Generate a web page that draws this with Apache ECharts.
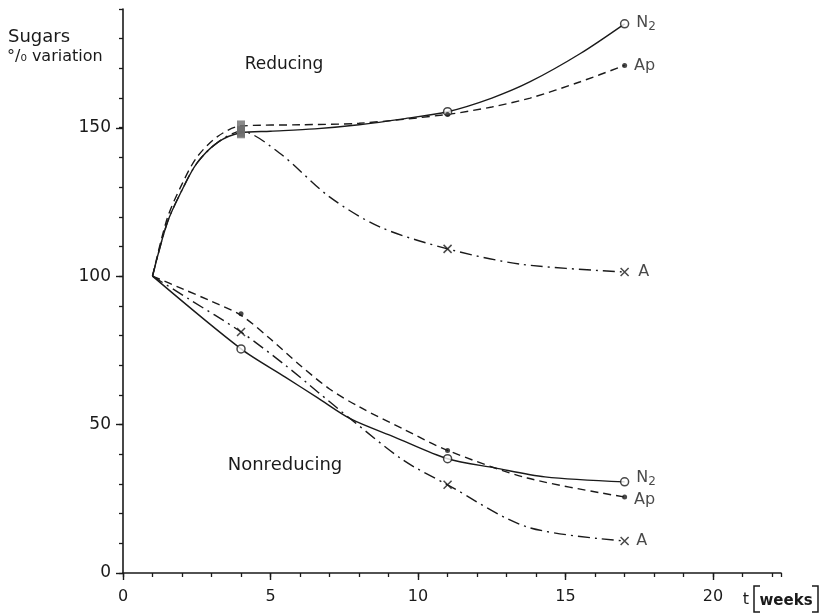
<!DOCTYPE html>
<html><head><meta charset="utf-8">
<script src="https://cdn.jsdelivr.net/npm/echarts@6/dist/echarts.min.js"></script>
<style>html,body{margin:0;padding:0;background:#fff}#c{width:821px;height:616px}</style>
</head><body><div id="c"></div>
<script>
// ---- data (t in weeks, sugars % variation) ----
const markerWeeks = [4, 11, 17];
const redN2 = [148.3, 155.4, 185];
const redAp = [150.6, 154.5, 171];
const redA  = [148.8, 109.2, 101.4];
const nonN2 = [75.5, 38.5, 30.7];
const nonAp = [87.3, 41.3, 25.6];
const nonA  = [81.2, 29.7, 10.8];

// curves
const curveRedN2 = [[1,100],[1.5,118],[2,129],[2.5,138],[3.2,145],[4,148.3],[5,148.8],[6.5,149.6],[8,151],[9.5,153],[11,155.4],[12.5,160],[13.8,165.5],[15.5,175],[17,185]];
const curveRedAp = [[1,100],[1.5,119.5],[2,131],[2.5,140],[3.2,147],[4,150.6],[6,151],[8,151.5],[11,154.5],[12.5,157],[13.8,160],[15.5,165.5],[17,171]];
const curveRedA  = [[1,100],[1.5,118],[2,129],[2.5,138],[3.2,145],[4,148.8],[5.3,141.5],[7,126.7],[8.7,116.6],[11,109.2],[13.5,104],[17,101.4]];
const curveNonN2 = [[1,100],[4,75.5],[5.5,66],[6.6,59],[7.7,52],[9.2,45.8],[11,38.5],[12.6,35.4],[14.3,32.4],[17,30.7]];
const curveNonAp = [[1,100],[2,95.8],[3,91.5],[4,86.8],[5,78.8],[6,70],[7,62],[8,56],[9.5,48.5],[11,41.3],[13.7,32],[17,25.6]];
const curveNonA  = [[1,100],[2.2,92.5],[4,81.2],[5.5,70],[6.6,61],[7.7,52],[9.5,38],[11,29.7],[13.7,15.5],[17,10.8]];

const xTickLabels = [0, 5, 10, 15, 20];
const yTickLabels = [0, 50, 100, 150];

// ---- styles ----
const INK = '#1a1a1a';
const FONT = 'DejaVu Sans';
const DASHED = [8, 5];
const DASHDOT = [12, 5, 2, 5];
const CROSS = 'path://M0,0L10,10M10,0L0,10';

function curve(pts, type) {
  return { type: 'line', xAxisIndex: 0, yAxisIndex: 0, data: pts, smooth: 0.3,
    showSymbol: false, silent: true,
    lineStyle: { color: INK, width: 1.4, type: type } };
}
const mStyles = {
  N2: { symbol: 'circle', symbolSize: 8, itemStyle: { color: '#fff', borderColor: INK, borderWidth: 1.5 } },
  Ap: { symbol: 'circle', symbolSize: 5, itemStyle: { color: INK, borderColor: INK, borderWidth: 0 } },
  A:  { symbol: CROSS, symbolSize: 8, itemStyle: { color: 'transparent', borderColor: INK, borderWidth: 1.5 } }
};
const labelRich = { n: { fontFamily: FONT, fontSize: 16, color: INK }, s: { fontFamily: FONT, fontSize: 12, color: INK, padding: [9, 0, 0, 0] } };
function markers(vals, kind, labelText, labelOffset, grayFirst) {
  const st = mStyles[kind];
  const data = vals.map((v, i) => {
    const item = { value: [markerWeeks[i], v] };
    if (i === 0 && grayFirst) {
      item.symbol = 'rect'; item.symbolSize = [8, 11];
      item.itemStyle = { color: '#6d6d6d', borderColor: '#6d6d6d', borderWidth: 0 };
    }
    if (i === vals.length - 1) {
      item.label = { show: true, position: 'right', distance: 7, offset: labelOffset,
        formatter: labelText, color: INK, fontFamily: FONT, fontSize: 16, rich: labelRich };
    }
    return item;
  });
  return { type: 'scatter', xAxisIndex: 0, yAxisIndex: 0, data: data, silent: true,
    symbol: st.symbol, symbolSize: st.symbolSize, itemStyle: st.itemStyle, z: 5 };
}

const chart = echarts.init(document.getElementById('c'), null, { renderer: 'canvas' });
const axisLine = { show: true, lineStyle: { color: INK, width: 1.6 } };
const option = {
  animation: false,
  backgroundColor: '#fff',
  grid: [
    { left: 123, top: 9, width: 658, height: 564 },
    { left: 123, top: 128, width: 590, height: 445 }
  ],
  xAxis: [
    { type: 'value', gridIndex: 0, min: 0, max: 22.3, interval: 1,
      axisLine: axisLine, axisTick: { show: true, length: 4, lineStyle: { color: INK, width: 1.3 } },
      axisLabel: { show: false }, splitLine: { show: false } },
    { type: 'value', gridIndex: 1, min: 0, max: 20, interval: 5,
      axisLine: { show: false }, axisTick: { show: true, length: 7, lineStyle: { color: INK, width: 1.4 } },
      axisLabel: { show: true, margin: 16, color: INK, fontFamily: FONT, fontSize: 16,
        formatter: v => (xTickLabels.indexOf(v) >= 0 ? String(v) : '') },
      splitLine: { show: false } }
  ],
  yAxis: [
    { type: 'value', gridIndex: 0, min: 0, max: 190, interval: 10,
      axisLine: axisLine, axisTick: { show: true, length: 4, lineStyle: { color: INK, width: 1.3 } },
      axisLabel: { show: false }, splitLine: { show: false } },
    { type: 'value', gridIndex: 1, min: 0, max: 150, interval: 50,
      axisLine: { show: false }, axisTick: { show: true, length: 7, lineStyle: { color: INK, width: 1.4 } },
      axisLabel: { show: true, margin: 12, color: INK, fontFamily: FONT, fontSize: 17,
        formatter: v => (yTickLabels.indexOf(v) >= 0 ? String(v) : '') },
      splitLine: { show: false } }
  ],
  series: [
    curve(curveRedN2, 'solid'),
    curve(curveRedAp, DASHED),
    curve(curveRedA, DASHDOT),
    curve(curveNonN2, 'solid'),
    curve(curveNonAp, DASHED),
    curve(curveNonA, DASHDOT),
    markers(redN2, 'N2', '{n|N}{s|2}', [0, -1], true),
    markers(redAp, 'Ap', 'Ap', [0, 0], true),
    markers(redA, 'A', 'A', [2, 0], true),
    markers(nonN2, 'N2', '{n|N}{s|2}', [0, -4], false),
    markers(nonAp, 'Ap', 'Ap', [0, 3], false),
    markers(nonA, 'A', 'A', [0, 0], false)
  ],
  graphic: [
    { type: 'text', x: 8, y: 37, style: { text: 'Sugars', fill: INK, font: '18px "DejaVu Sans"', align: 'left', verticalAlign: 'middle' } },
    { type: 'text', x: 7, y: 57, style: { text: '°/₀ variation', fill: INK, font: '16px "DejaVu Sans"', align: 'left', verticalAlign: 'middle' } },
    { type: 'text', x: 284, y: 65, style: { text: 'Reducing', fill: INK, font: '17px "DejaVu Sans"', align: 'center', verticalAlign: 'middle' } },
    { type: 'text', x: 285, y: 465, style: { text: 'Nonreducing', fill: INK, font: '18px "DejaVu Sans"', align: 'center', verticalAlign: 'middle' } },
    { type: 'text', x: 746, y: 600, style: { text: 't', fill: INK, font: '16px "DejaVu Sans"', align: 'center', verticalAlign: 'middle' } },
    { type: 'text', x: 786, y: 601, style: { text: 'weeks', fill: INK, font: 'bold 15px "DejaVu Sans"', align: 'center', verticalAlign: 'middle' } },
    { type: 'polyline', shape: { points: [[760, 586], [754, 586], [754, 612], [760, 612]] }, style: { stroke: INK, lineWidth: 1.5, fill: null } },
    { type: 'polyline', shape: { points: [[812, 586], [818, 586], [818, 612], [812, 612]] }, style: { stroke: INK, lineWidth: 1.5, fill: null } }
  ]
};
chart.setOption(option);
</script>
</body></html>
